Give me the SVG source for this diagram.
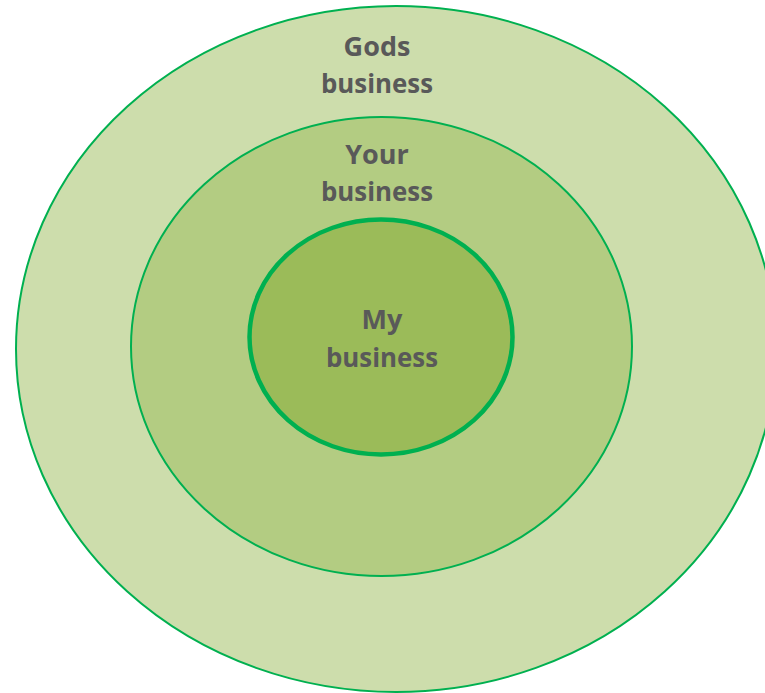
<svg xmlns="http://www.w3.org/2000/svg" width="765" height="693" viewBox="0 0 765 693">
<style>
.ring{stroke:#00B050;stroke-width:2}
.lbl{font-family:"Open Sans","Noto Sans",sans-serif;font-weight:bold;font-size:27px;fill:#595959;text-anchor:middle}
</style>
<rect width="765" height="693" fill="#ffffff"/>
<g id="gods">
<ellipse class="ring" cx="396" cy="349" rx="380" ry="343" fill="#CDDDAC"/>
<text class="lbl" x="377" y="56">Gods</text>
<text class="lbl" x="377" y="93" textLength="112" lengthAdjust="spacingAndGlyphs">business</text>
</g>
<g id="your">
<ellipse class="ring" cx="381.5" cy="346.5" rx="250.5" ry="229.5" fill="#B3CC82"/>
<text class="lbl" x="377" y="164">Your</text>
<text class="lbl" x="377" y="201" textLength="112" lengthAdjust="spacingAndGlyphs">business</text>
</g>
<g id="my">
<ellipse cx="381" cy="337" rx="131.5" ry="117.5" fill="#9BBB59" stroke="#00B050" stroke-width="4.5"/>
<text class="lbl" x="382" y="329">My</text>
<text class="lbl" x="382" y="367" textLength="112" lengthAdjust="spacingAndGlyphs">business</text>
</g>
<g id="connectors"/>
</svg>
